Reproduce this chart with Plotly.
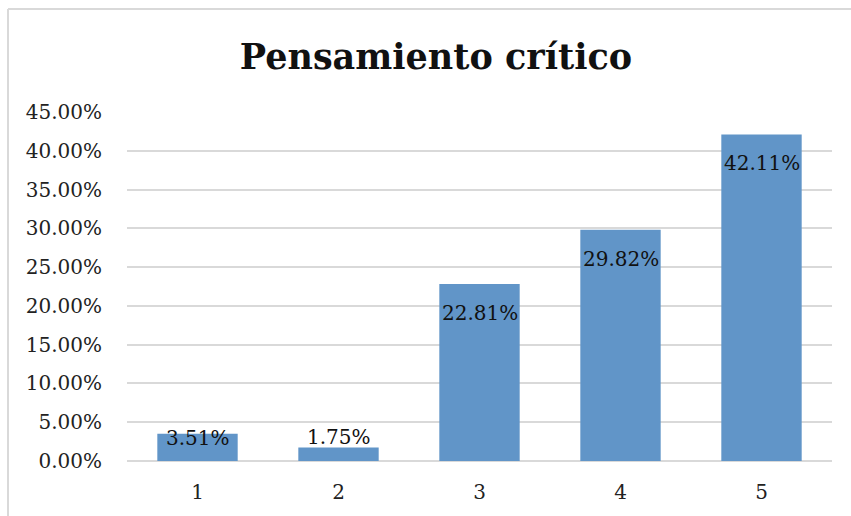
import plotly.graph_objects as go

categories = ["1", "2", "3", "4", "5"]
values = [3.51, 1.75, 22.81, 29.82, 42.11]
tick_vals = [0, 5, 10, 15, 20, 25, 30, 35, 40, 45]
tick_text = ["0.00%", "5.00%", "10.00%", "15.00%", "20.00%", "25.00%", "30.00%", "35.00%", "40.00%", "45.00%"]
title_text = "Pensamiento crítico"

FONT = "DejaVu Serif"
W, H = 851, 516
L, R, T, B = 127, 19, 112, 55
pw, ph = W - L - R, H - T - B

fig = go.Figure()
fig.add_trace(go.Bar(x=list(range(len(categories))), y=values,
                     marker=dict(color="#6195C8", line=dict(width=0)),
                     hoverinfo="skip"))

for i, v in enumerate(values):
    if v >= 10:
        shift = -29
    elif v >= 3:
        shift = -4
    else:
        shift = 10
    fig.add_annotation(x=i, y=v, xref="x", yref="y", text=f"{v:.2f}%", showarrow=False,
                       yanchor="middle", yshift=shift,
                       font=dict(family=FONT, size=20, color="#111111"))

# chart frame (left and top edges visible)
fx = (8 - L) / pw
fy = (H - B - 9) / ph
fig.add_shape(type="line", xref="paper", yref="paper", x0=fx, x1=fx, y0=fy, y1=-B / ph,
              line=dict(color="#D9D9D9", width=2))
fig.add_shape(type="line", xref="paper", yref="paper", x0=fx, x1=(W - L) / pw, y0=fy, y1=fy,
              line=dict(color="#D9D9D9", width=2))

fig.update_layout(
    width=W, height=H,
    margin=dict(l=L, r=R, t=T, b=B),
    paper_bgcolor="white", plot_bgcolor="white",
    bargap=0.43,
    showlegend=False,
    title=dict(text=f"<b>{title_text}</b>", x=(436 / W), xanchor="center", y=1 - 57 / H, yanchor="middle",
               font=dict(family=FONT, size=35, color="#111111")),
    xaxis=dict(tickmode="array", tickvals=list(range(len(categories))), ticktext=categories,
               range=[-0.5, len(categories) - 0.5],
               showgrid=False, showline=False, ticks="", zeroline=False,
               tickfont=dict(family=FONT, size=20, color="#222222"), ticklabelstandoff=17),
    yaxis=dict(range=[0, 45], tickvals=tick_vals, ticktext=tick_text, showgrid=True,
               gridcolor="#D9D9D9", gridwidth=1.5, zeroline=True, zerolinecolor="#D9D9D9", zerolinewidth=1.5,
               showline=False, ticks="", tickfont=dict(family=FONT, size=20, color="#222222"),
               ticklabelstandoff=24),
)

fig.write_html("out.html", config={"displayModeBar": False},
               post_script="document.body.style.margin='0';document.body.style.overflow='hidden';")
